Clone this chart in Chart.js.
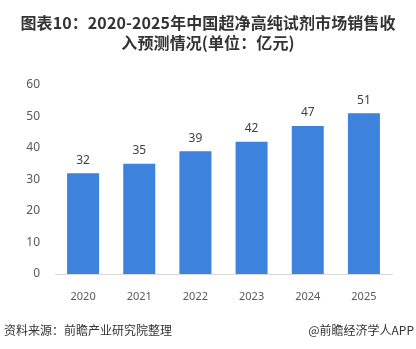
<!DOCTYPE html>
<html>
<head>
<meta charset="utf-8">
<script src="https://cdn.jsdelivr.net/npm/chart.js@4/dist/chart.umd.min.js"></script>
<style>
  html, body { margin: 0; padding: 0; background: #fff; }
  #wrap { position: relative; width: 416px; height: 349px; overflow: hidden; font-family: "Noto Sans CJK SC", "Noto Sans", sans-serif; }
  #chart { position: absolute; left: 0; top: 0; }
  .title { position: absolute; left: 0; top: 12px; width: 416px; text-align: center; font-size: 16px; font-weight: bold; line-height: 20px; color: #333; letter-spacing: 0.1px; }
  .src { position: absolute; left: 4px; top: 321px; font-size: 12px; color: #333; }
  .brand { position: absolute; right: 2px; top: 321px; font-size: 12px; color: #333; }
</style>
</head>
<body>
<div id="wrap">
  <canvas id="chart" width="416" height="349"></canvas>
  <div class="title">图表10：2020-2025年中国超净高纯试剂市场销售收<br>入预测情况(单位：亿元)</div>
  <div class="src">资料来源：前瞻产业研究院整理</div>
  <div class="brand">@前瞻经济学人APP</div>
</div>
<script>
// sales revenue forecast, 100M yuan
const years = ['2020', '2021', '2022', '2023', '2024', '2025'];
const revenue = [32, 35, 39, 42, 47, 51];
const yTicks = [0, 10, 20, 30, 40, 50, 60];

// value labels above each bar
const barLabels = {
  id: 'barLabels',
  afterDatasetsDraw(chart) {
    const ctx = chart.ctx;
    const meta = chart.getDatasetMeta(0);
    ctx.save();
    ctx.font = '12px "Noto Sans", sans-serif';
    ctx.fillStyle = '#404040';
    ctx.textAlign = 'center';
    ctx.textBaseline = 'middle';
    meta.data.forEach((bar, i) => {
      ctx.fillText(String(revenue[i]), bar.x, bar.y - 13);
    });
    ctx.restore();
  }
};

new Chart(document.getElementById('chart'), {
  type: 'bar',
  data: {
    labels: years,
    datasets: [{
      data: revenue,
      backgroundColor: '#3d82dc',
      categoryPercentage: 1,
      barPercentage: 0.57
    }]
  },
  options: {
    responsive: false,
    animation: false,
    layout: { padding: { top: 85, right: 24, left: 0, bottom: 0 } },
    plugins: { legend: { display: false }, tooltip: { enabled: false } },
    scales: {
      x: {
        grid: { display: false },
        border: { color: '#d9d9d9' },
        ticks: { color: '#595959', font: { size: 11, family: '"Noto Sans", sans-serif' }, padding: 8 },
        afterFit(s) { s.height = 75; }
      },
      y: {
        min: 0,
        max: 60,
        afterBuildTicks(s) { s.ticks = yTicks.map(v => ({ value: v })); },
        grid: { display: false, drawTicks: false },
        border: { display: false },
        ticks: { color: '#595959', font: { size: 12, family: '"Noto Sans", sans-serif' }, padding: 15 },
        afterFit(s) { s.width = 55; }
      }
    }
  },
  plugins: [barLabels]
});
</script>
</body>
</html>
